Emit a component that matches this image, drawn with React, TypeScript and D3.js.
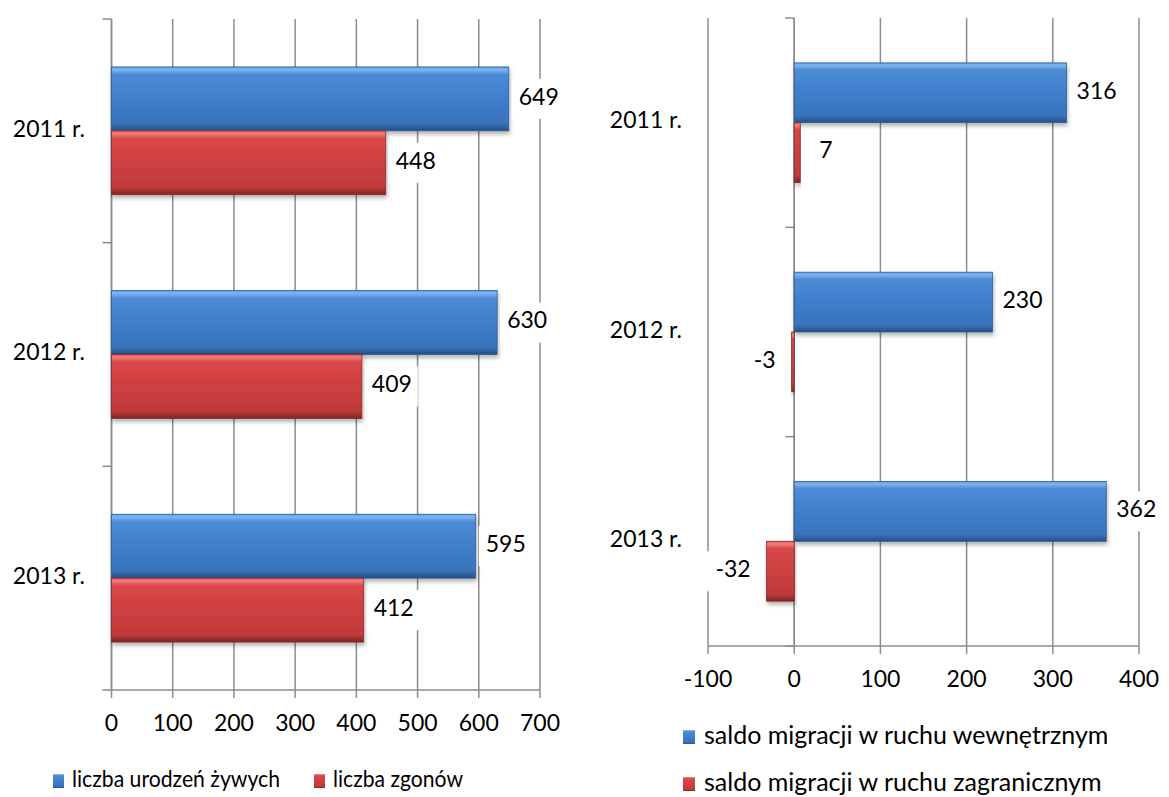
import React from "react";
import * as d3 from "d3";

// Data
const years = ["2011 r.", "2012 r.", "2013 r."];
const births = [649, 630, 595];
const deaths = [448, 409, 412];
const internalMigration = [316, 230, 362];
const foreignMigration = [7, -3, -32];
const leftTicks = [0, 100, 200, 300, 400, 500, 600, 700];
const rightTicks = [-100, 0, 100, 200, 300, 400];
const leftLegend = ["liczba urodzeń żywych", "liczba zgonów"];
const rightLegend = ["saldo migracji w ruchu wewnętrznym", "saldo migracji w ruchu zagranicznym"];

const FONT = "Lato, 'Open Sans', sans-serif";
const GRID = "#8c8c8c";
const NUM_SIZE = 23;
const LEG_SIZE = 24;
const LEG_SIZE_R = 25;

interface PanelProps {
  xDomain: [number, number];
  xRange: [number, number];
  yRange: [number, number];
  ticks: number[];
  seriesA: number[];
  seriesB: number[];
  catLabelX: number;
  tickLabelY: number;
}

const Panel: React.FC<PanelProps> = ({ xDomain, xRange, yRange, ticks, seriesA, seriesB, catLabelX, tickLabelY }) => {
  const x = d3.scaleLinear().domain(xDomain).range(xRange);
  const y = d3.scaleBand<string>().domain(years).range(yRange).paddingInner(0).paddingOuter(0);
  const bw = y.bandwidth();
  const group = (bw * 2) / 3.5; // gap width 150%
  const barH = group / 2;
  const x0 = x(0);
  const [top, bottom] = yRange;

  const bars: { cat: string; v: number; s: number }[] = [];
  years.forEach((c, i) => {
    bars.push({ cat: c, v: seriesA[i], s: 0 });
    bars.push({ cat: c, v: seriesB[i], s: 1 });
  });

  return (
    <g>
      {/* gridlines */}
      {ticks.map((t) => (
        <line key={"g" + t} x1={x(t)} x2={x(t)} y1={top} y2={bottom} stroke={GRID} strokeWidth={1.5} />
      ))}
      {/* category axis */}
      <line x1={x0} x2={x0} y1={top} y2={bottom} stroke={GRID} strokeWidth={1.5} />
      {[...years.map((c) => y(c)!), bottom].map((v, i) => (
        <line key={"ct" + i} x1={x0 - 9} x2={x0} y1={v} y2={v} stroke={GRID} strokeWidth={1.5} />
      ))}
      {/* value axis */}
      <line x1={xRange[0]} x2={xRange[1]} y1={bottom} y2={bottom} stroke={GRID} strokeWidth={1.5} />
      {ticks.map((t) => (
        <line key={"vt" + t} x1={x(t)} x2={x(t)} y1={bottom} y2={bottom + 8} stroke={GRID} strokeWidth={1.5} />
      ))}
      {ticks.map((t) => (
        <text key={"vl" + t} x={x(t)} y={tickLabelY} textAnchor="middle" dominantBaseline="middle"
          fontFamily={FONT} fontSize={NUM_SIZE} fill="#000">
          {t}
        </text>
      ))}
      {years.map((c) => (
        <text key={"cl" + c} x={catLabelX} y={y(c)! + bw / 2} textAnchor="end" dominantBaseline="middle"
          fontFamily={FONT} fontSize={NUM_SIZE} fill="#000">
          {c}
        </text>
      ))}
      {/* bars */}
      {bars.map((b, i) => {
        const yy = y(b.cat)! + (bw - group) / 2 + b.s * barH;
        const xa = Math.min(x0, x(b.v));
        const w = Math.abs(x(b.v) - x0);
        return (
          <rect key={"b" + i} x={xa} y={yy} width={Math.max(w, 1)} height={barH}
            fill={b.s === 0 ? "url(#gBlue)" : "url(#gRed)"}
            stroke={b.s === 0 ? "#2f5f98" : "#8a2a2a"} strokeWidth={0.8} filter="url(#shadow)" />
        );
      })}
      {/* value labels */}
      {bars.map((b, i) => {
        const yy = y(b.cat)! + (bw - group) / 2 + b.s * barH + barH / 2;
        const neg = b.v < 0;
        const label = String(b.v);
        const tw = label.length * 13;
        const tx = neg ? x(b.v) - 16 : x(b.v) + (Math.abs(b.v) < 20 ? 19 : 10);
        const bx = neg ? tx - tw - 7 : tx - 7;
        return (
          <g key={"l" + i}>
            <rect x={bx} y={yy - 20} width={tw + 14} height={40} fill="#fff" />
            <text x={tx} y={yy} textAnchor={neg ? "end" : "start"} dominantBaseline="middle"
              fontFamily={FONT} fontSize={NUM_SIZE} fill="#000">
              {label}
            </text>
          </g>
        );
      })}
    </g>
  );
};

const LegendSwatch: React.FC<{ x: number; y: number; w: number; h: number; fill: string }> = ({ x, y, w, h, fill }) => (
  <rect x={x} y={y} width={w} height={h} fill={fill} />
);

const App: React.FC = () => {
  return (
    <svg width={1169} height={797} style={{ position: "absolute", left: 0, top: 0, background: "#fff" }}>
      <defs>
        <linearGradient id="gBlue" x1="0" y1="0" x2="0" y2="1">
          <stop offset="0" stopColor="#5a98de" />
          <stop offset="0.04" stopColor="#7fb6f2" />
          <stop offset="0.12" stopColor="#4c8bd6" />
          <stop offset="0.5" stopColor="#3f7ecb" />
          <stop offset="0.88" stopColor="#3873bc" />
          <stop offset="0.95" stopColor="#2e5f9c" />
          <stop offset="1" stopColor="#254d80" />
        </linearGradient>
        <linearGradient id="gRed" x1="0" y1="0" x2="0" y2="1">
          <stop offset="0" stopColor="#e05656" />
          <stop offset="0.04" stopColor="#f67f7f" />
          <stop offset="0.12" stopColor="#d84747" />
          <stop offset="0.5" stopColor="#cd4040" />
          <stop offset="0.88" stopColor="#c03a3a" />
          <stop offset="0.95" stopColor="#9a2f2f" />
          <stop offset="1" stopColor="#7c2525" />
        </linearGradient>
        <filter id="shadow" x="-10%" y="-20%" width="120%" height="160%">
          <feDropShadow dx="1" dy="3" stdDeviation="2" floodColor="#000" floodOpacity="0.3" />
        </filter>
      </defs>

      <Panel xDomain={[0, 700]} xRange={[111.5, 540]} yRange={[19, 690]} ticks={leftTicks}
        seriesA={births} seriesB={deaths} catLabelX={85} tickLabelY={725} />
      <Panel xDomain={[-100, 400]} xRange={[708, 1139]} yRange={[18, 646]} ticks={rightTicks}
        seriesA={internalMigration} seriesB={foreignMigration} catLabelX={682} tickLabelY={681} />

      {/* left legend */}
      <LegendSwatch x={53} y={774} w={11} h={14} fill="url(#gBlue)" />
      <text x={72} y={781} dominantBaseline="middle" fontFamily={FONT} fontSize={LEG_SIZE}
        textLength={208} lengthAdjust="spacingAndGlyphs">{leftLegend[0]}</text>
      <LegendSwatch x={314} y={774} w={11} h={14} fill="url(#gRed)" />
      <text x={333} y={781} dominantBaseline="middle" fontFamily={FONT} fontSize={LEG_SIZE}
        textLength={130} lengthAdjust="spacingAndGlyphs">{leftLegend[1]}</text>

      {/* right legend */}
      <LegendSwatch x={683} y={730} w={12} h={14} fill="url(#gBlue)" />
      <text x={704} y={738} dominantBaseline="middle" fontFamily={FONT} fontSize={LEG_SIZE_R}>{rightLegend[0]}</text>
      <LegendSwatch x={683} y={777} w={12} h={14} fill="url(#gRed)" />
      <text x={704} y={785} dominantBaseline="middle" fontFamily={FONT} fontSize={LEG_SIZE_R}>{rightLegend[1]}</text>
    </svg>
  );
};

export default App;
